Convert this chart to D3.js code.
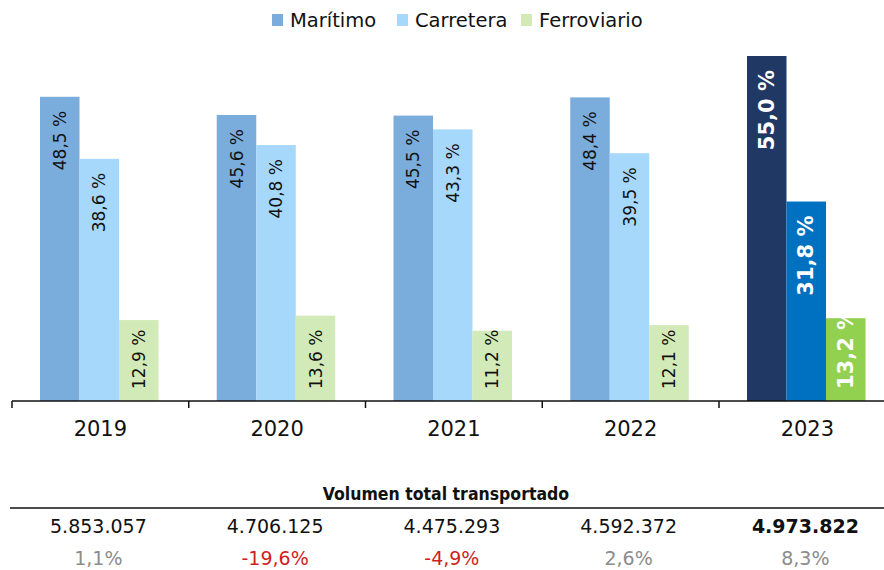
<!DOCTYPE html>
<html lang="es">
<head>
  <meta charset="UTF-8">
  <title>Reparto modal</title>
  <script src="https://d3js.org/d3.v7.min.js"></script>
  <style>
    html, body {
      margin: 0;
      padding: 0;
      background: #fff;
    }
    svg text {
      font-family: "DejaVu Sans", sans-serif;
    }
  </style>
</head>
<body>
  <div id="container"></div>
  <script>
    const width = 884;
    const height = 570;

    // data
    const years = ['2019', '2020', '2021', '2022', '2023'];
    const series = ['Marítimo', 'Carretera', 'Ferroviario'];
    const maritimo    = [48.5, 45.6, 45.5, 48.4, 55.0];
    const carretera   = [38.6, 40.8, 43.3, 39.5, 31.8];
    const ferroviario = [12.9, 13.6, 11.2, 12.1, 13.2];
    const volumen  = ['5.853.057', '4.706.125', '4.475.293', '4.592.372', '4.973.822'];
    const variacion = [1.1, -19.6, -4.9, 2.6, 8.3];

    const colors     = ['#7aacdc', '#a6d8fc', '#d1eab7'];
    const colorsLast = ['#203864', '#0070c0', '#92d050'];

    const axisY = 401;
    const bandW = 176.75;

    const svg = d3.select('#container').append('svg')
      .attr('width', width).attr('height', height);

    const x0 = d3.scaleBand().domain(years).range([12, 12 + bandW * years.length]).padding(0);
    const x1 = d3.scaleBand().domain(series).range([28, 28 + 118.5]).padding(0);
    const y = d3.scaleLinear().domain([0, 55]).range([axisY, 56]);

    const values = [maritimo, carretera, ferroviario];

    // legend
    const legend = svg.append('g');
    const legendX = [272, 397, 521];
    series.forEach((s, i) => {
      legend.append('rect').attr('x', legendX[i]).attr('y', 14).attr('width', 11).attr('height', 12)
        .attr('fill', colors[i]);
      legend.append('text').attr('x', legendX[i] + 18).attr('y', 27)
        .attr('font-size', 19.5).attr('fill', '#111').text(s);
    });

    // bars
    years.forEach((yr, yi) => {
      const last = yi === years.length - 1;
      const g = svg.append('g').attr('transform', `translate(${x0(yr)},0)`);
      series.forEach((s, si) => {
        const v = values[si][yi];
        const bx = x1(s);
        const bw = x1.bandwidth();
        g.append('rect')
          .attr('x', bx).attr('y', y(v))
          .attr('width', bw).attr('height', axisY - y(v))
          .attr('fill', last ? colorsLast[si] : colors[si]);

        const label = v.toFixed(1).replace('.', ',') + ' %';
        const fs = last ? 21 : 17;
        const t = g.append('text')
          .attr('font-size', fs)
          .attr('font-weight', last ? 'bold' : 'normal')
          .attr('fill', last ? '#fff' : '#111')
          .attr('text-anchor', 'end')
          .attr('dominant-baseline', 'central')
          .text(label);
        const len = t.node().getComputedTextLength();
        const topY = Math.min(y(v) + 14, axisY - 12 - len);
        t.attr('transform', `translate(${bx + bw / 2},${topY}) rotate(-90)`);
      });
    });

    // x axis
    svg.append('line').attr('x1', 12).attr('x2', width).attr('y1', axisY).attr('y2', axisY)
      .attr('stroke', '#111').attr('stroke-width', 1.5);
    years.forEach(yr => {
      svg.append('line').attr('x1', x0(yr)).attr('x2', x0(yr)).attr('y1', axisY).attr('y2', axisY + 7)
        .attr('stroke', '#111').attr('stroke-width', 1.5);
      svg.append('text').attr('x', x0(yr) + bandW / 2).attr('y', 436)
        .attr('text-anchor', 'middle').attr('font-size', 21).attr('fill', '#111').text(yr);
    });

    // table below
    svg.append('text').attr('x', 446).attr('y', 500).attr('text-anchor', 'middle')
      .attr('font-size', 17.5).attr('font-weight', 'bold')
      .style('font-family', '"DejaVu Sans Condensed", "DejaVu Sans", sans-serif')
      .attr('fill', '#111').text('Volumen total transportado');
    svg.append('line').attr('x1', 10).attr('x2', width).attr('y1', 508).attr('y2', 508)
      .attr('stroke', '#111').attr('stroke-width', 1.5);

    years.forEach((yr, i) => {
      const last = i === years.length - 1;
      const cx = x0(yr) + bandW / 2 - 2;
      svg.append('text').attr('x', cx).attr('y', 533).attr('text-anchor', 'middle')
        .attr('font-size', 19).attr('font-weight', last ? 'bold' : 'normal')
        .attr('fill', '#111').text(volumen[i]);
      svg.append('text').attr('x', cx).attr('y', 565).attr('text-anchor', 'middle')
        .attr('font-size', 19)
        .attr('fill', variacion[i] < 0 ? '#d01f1f' : '#8c8c8c')
        .text(variacion[i].toFixed(1).replace('.', ',') + '%');
    });
  </script>
</body>
</html>
